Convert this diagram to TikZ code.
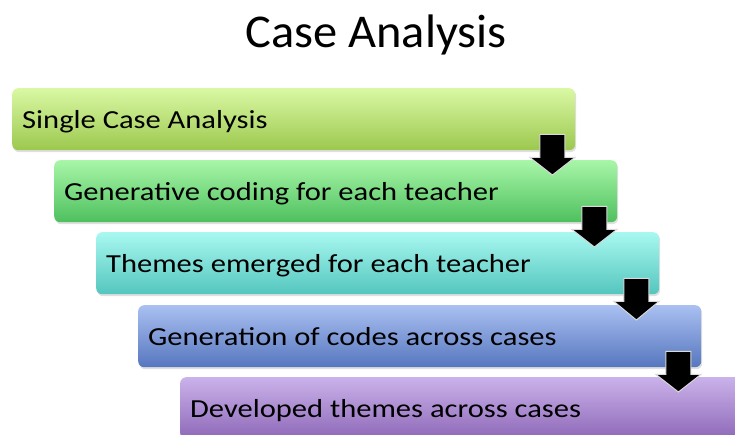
\documentclass[tikz,border=0pt]{standalone}
\usepackage{fontspec}
\setmainfont{Carlito}
\usetikzlibrary{calc,shadows}
\definecolor{c1t}{HTML}{DAF8A4}\definecolor{c1b}{HTML}{9CC84E}
\definecolor{c2t}{HTML}{A8F6A8}\definecolor{c2b}{HTML}{4EC05E}
\definecolor{c3t}{HTML}{A8F8F0}\definecolor{c3b}{HTML}{54C6BE}
\definecolor{c4t}{HTML}{AAC0F2}\definecolor{c4b}{HTML}{5676BE}
\definecolor{c5t}{HTML}{CAB2EA}\definecolor{c5b}{HTML}{8E68B8}
\newcommand{\stretchtext}[1]{\scalebox{1.175}[1]{#1}}
\tikzset{
  stagebox/.style 2 args={rectangle, rounded corners=6pt, minimum width=563pt, minimum height=62pt,
    anchor=north west, inner sep=0pt,
    top color=#1, bottom color=#2,
    drop shadow={opacity=0.25, shadow xshift=1pt, shadow yshift=-2pt}},
  stagetext/.style={anchor=base west, inner sep=0pt, font=\fontsize{26}{30}\selectfont},
  blockarrow/.style={fill=black, draw=black!15, line width=1pt, line join=miter}
}
\begin{document}
\begin{tikzpicture}[x=1pt,y=-1pt]
\useasboundingbox (0,0) rectangle (735,434);
\clip (0,0) rectangle (735,434);
\node[anchor=base, inner sep=0pt, font=\fontsize{47}{52}\selectfont] (title) at (376,47) {\scalebox{1.03}[1]{Case Analysis}};
\node[stagebox={c1t}{c1b}] (b1) at (12,88) {};
\node[stagebox={c2t}{c2b}] (b2) at (54,160) {};
\node[stagebox={c3t}{c3b}] (b3) at (96,232) {};
\node[stagebox={c4t}{c4b}] (b4) at (138,305) {};
\node[stagebox={c5t}{c5b}] (b5) at (180,377) {};
\node[stagetext] (t1) at ($(b1.north west)+(10,40)$) {\stretchtext{Single Case Analysis}};
\node[stagetext] (t2) at ($(b2.north west)+(10,40)$) {\stretchtext{Generative coding for each teacher}};
\node[stagetext] (t3) at ($(b3.north west)+(10,40)$) {\stretchtext{Themes emerged for each teacher}};
\node[stagetext] (t4) at ($(b4.north west)+(10,40)$) {\stretchtext{Generation of codes across cases}};
\node[stagetext] (t5) at ($(b5.north west)+(10,40)$) {\stretchtext{Developed themes across cases}};
\foreach \a/\b in {b1/b2,b2/b3,b3/b4,b4/b5}{
  \coordinate (s\a) at ($(\a.south east)+(-23,-16)$);
  \coordinate (t\a) at ($(\b.north east)+(-65,15)$);
  \draw[blockarrow] ($(s\a)+(-12.5,0)$) -- ($(s\a)+(12.5,0)$) -- ($(s\a)+(12.5,23)$) -- ($(s\a)+(22.5,23)$)
    -- (s\a |- t\a) -- ($(s\a)+(-22.5,23)$) -- ($(s\a)+(-12.5,23)$) -- cycle;
}
\end{tikzpicture}
\end{document}
